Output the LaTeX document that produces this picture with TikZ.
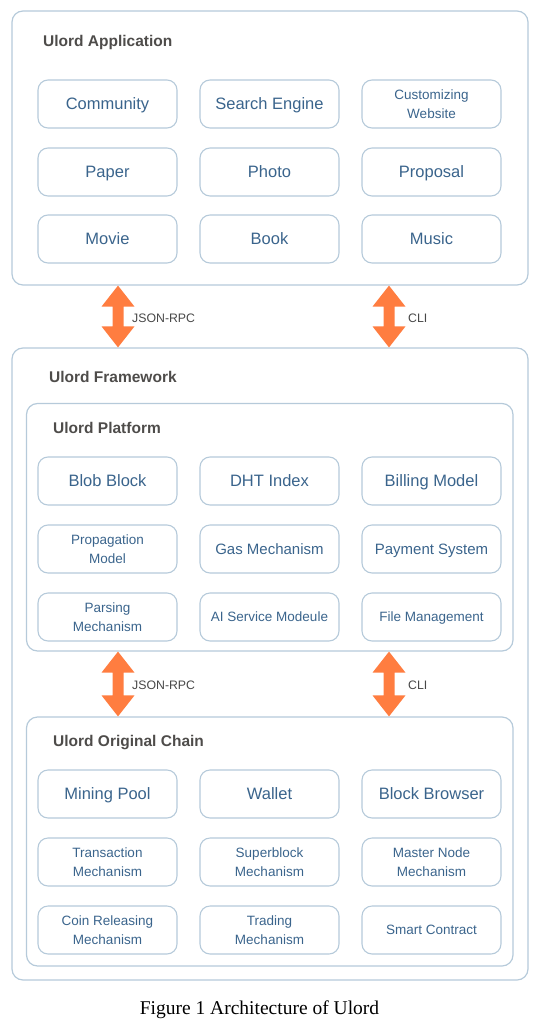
\documentclass[tikz,border=0pt]{standalone}
\usepackage{fontspec}
\setmainfont{Liberation Sans}
\newfontfamily\capfont{Liberation Serif}
\usetikzlibrary{calc}
\definecolor{bordc}{RGB}{182,202,218}
\definecolor{boxtext}{RGB}{58,100,140}
\definecolor{titletext}{RGB}{78,76,74}
\definecolor{arrowc}{RGB}{255,125,64}
\tikzset{
  container/.style={draw=bordc, line width=1.2pt, rounded corners=11pt, inner sep=0pt},
  item/.style={draw=bordc, line width=1.1pt, rounded corners=10pt, minimum width=139pt, minimum height=48pt, inner sep=0pt, text=boxtext, align=center},
  oneline/.style={text height=#1, text depth=0pt},
  big/.style={oneline=11.9pt, font=\fontsize{16.5}{19}\selectfont},
  mid/.style={oneline=10.8pt, font=\fontsize{15}{18}\selectfont},
  small/.style={font=\fontsize{13.5}{18.5}\selectfont},
  smallone/.style={oneline=9.7pt, font=\fontsize{13.5}{18.5}\selectfont},
  titlestyle/.style={anchor=west, inner sep=0pt, text=titletext, oneline=11.1pt, font=\fontsize{15.5}{18}\selectfont\bfseries},
  lbl/.style={anchor=west, inner sep=0pt, text=black!72, oneline=8.8pt, font=\fontsize{12.3}{14}\selectfont},
  dblarrow/.style={fill=arrowc}
}
\newcommand{\vdblarrow}[2]{%
  \fill[dblarrow] (#1) -- ++(16.5,21) -- ++(-11,0) -- ($(#2)+(5.5,-21)$) -- ++(11,0) -- (#2) -- ++(-16.5,-21) -- ++(11,0) -- ($(#1)+(-5.5,21)$) -- ++(-11,0) -- cycle;}
\begin{document}
\begin{tikzpicture}[x=1pt,y=-1pt]
\useasboundingbox (0,0) rectangle (559,1035);
% containers
\node[container, minimum width=516pt, minimum height=274pt] (app) at (270,148) {};
\node[container, minimum width=516pt, minimum height=632pt] (fw) at (270,664) {};
\node[container, minimum width=486.5pt, minimum height=247.5pt] (plat) at (269.75,527.25) {};
\node[container, minimum width=486.5pt, minimum height=249pt] (chain) at (269.75,841.5) {};
% titles
\node[titlestyle] (tapp) at (43,41) {Ulord Application};
\node[titlestyle] (tfw) at (49,377) {Ulord Framework};
\node[titlestyle] (tplat) at (53,428) {Ulord Platform};
\node[titlestyle] (tchain) at (53,741) {Ulord Original Chain};
% application items
\node[item,big] (community) at (107.5,104) {Community};
\node[item,big] (search) at (269.5,104) {Search Engine};
\node[item,small] (custom) at (431.5,104) {Customizing\\Website};
\node[item,big] (paper) at (107.5,172) {Paper};
\node[item,big] (photo) at (269.5,172) {Photo};
\node[item,big] (proposal) at (431.5,172) {Proposal};
\node[item,big] (movie) at (107.5,239) {Movie};
\node[item,big] (book) at (269.5,239) {Book};
\node[item,big] (music) at (431.5,239) {Music};
% platform items
\node[item,big] (blob) at (107.5,481) {Blob Block};
\node[item,big] (dht) at (269.5,481) {DHT Index};
\node[item,big] (billing) at (431.5,481) {Billing Model};
\node[item,small] (prop) at (107.5,549) {Propagation\\Model};
\node[item,mid] (gas) at (269.5,549) {Gas Mechanism};
\node[item,mid] (payment) at (431.5,549) {Payment System};
\node[item,small] (parsing) at (107.5,617) {Parsing\\Mechanism};
\node[item,smallone] (ai) at (269.5,617) {AI Service Modeule};
\node[item,smallone] (file) at (431.5,617) {File Management};
% chain items
\node[item,big] (mining) at (107.5,794) {Mining Pool};
\node[item,big] (wallet) at (269.5,794) {Wallet};
\node[item,big] (browser) at (431.5,794) {Block Browser};
\node[item,small] (trans) at (107.5,862) {Transaction\\Mechanism};
\node[item,small] (super) at (269.5,862) {Superblock\\Mechanism};
\node[item,small] (master) at (431.5,862) {Master Node\\Mechanism};
\node[item,small] (coin) at (107.5,930) {Coin Releasing\\Mechanism};
\node[item,small] (trading) at (269.5,930) {Trading\\Mechanism};
\node[item,smallone] (smart) at (431.5,930) {Smart Contract};
% arrows
\coordinate (cL) at (118,0);
\coordinate (cR) at (389,0);
\coordinate (a1s) at (app.south -| cL);  \coordinate (a1e) at (fw.north -| cL);
\coordinate (a2s) at (app.south -| cR);  \coordinate (a2e) at (fw.north -| cR);
\coordinate (a3s) at (plat.south -| cL); \coordinate (a3e) at (chain.north -| cL);
\coordinate (a4s) at (plat.south -| cR); \coordinate (a4e) at (chain.north -| cR);
\vdblarrow{a1s}{a1e}
\vdblarrow{a2s}{a2e}
\vdblarrow{a3s}{a3e}
\vdblarrow{a4s}{a4e}
\node[lbl] (l1) at (132,318) {JSON-RPC};
\node[lbl] (l2) at (408,318) {CLI};
\node[lbl] (l3) at (132,685) {JSON-RPC};
\node[lbl] (l4) at (408,685) {CLI};
% caption
\node[inner sep=0pt, font=\capfont\fontsize{19.5}{22}\selectfont] (cap) at (259.5,1010) {Figure 1 Architecture of Ulord};
\end{tikzpicture}
\end{document}
